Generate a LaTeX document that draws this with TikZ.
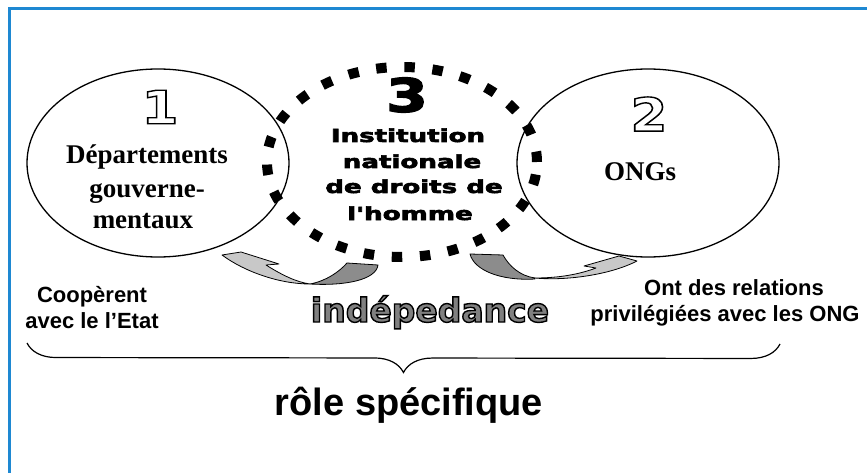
\documentclass[tikz,border=0pt]{standalone}
\usepackage{fontspec}
\setmainfont{Liberation Serif}
\newfontfamily\arialfont{Liberation Sans}
\newfontfamily\heavyfont{DejaVu Sans Bold}
\newfontfamily\blackfont{DejaVu Sans Bold}[FakeBold=3]
\usepackage{graphicx}
\usetikzlibrary{shapes.geometric,decorations.pathreplacing}
\definecolor{framebl}{RGB}{30,136,210}
\definecolor{lightarr}{RGB}{200,200,200}
\definecolor{darkarr}{RGB}{140,140,140}
\definecolor{fillgray}{RGB}{128,128,128}
\newcommand{\outlined}[2]{\textcolor{#1}{\special{pdf:literal direct 2 Tr 1.4 w 0 0 0 RG}#2\special{pdf:literal direct 0 Tr}}}

\begin{document}
\begin{tikzpicture}
  [x=1pt,y=-1pt,
   oval/.style={ellipse,draw,line width=1.3pt,minimum width=262pt,minimum height=188pt,inner sep=0pt},
   dotoval/.style={ellipse,draw,line width=10pt,dash pattern=on 10.5pt off 17.7pt,minimum width=270pt,minimum height=190pt,inner sep=0pt},
   numtxt/.style={font=\heavyfont\fontsize{46}{46}\selectfont,inner sep=0pt},
   heavytxt/.style={font=\blackfont\fontsize{18}{18}\selectfont,inner sep=0pt,anchor=base},
   sertxt/.style={font=\bfseries\fontsize{27}{32}\selectfont,inner sep=0pt,anchor=base},
   arialtxt/.style={font=\arialfont\bfseries\fontsize{22}{26}\selectfont,inner sep=0pt,anchor=base},
   swoosh/.style={draw=black,line width=0.8pt,line join=round}]
  \useasboundingbox (0,0) rectangle (867,473);
  \draw[framebl,line width=3pt] (9,473) -- (9,9) -- (867,9);

  % the three bodies
  \node[oval] (dept) at (158,163) {};
  \node[oval] (ongs) at (648,163) {};
  \node[dotoval] (inst) at (402,162) {};

  % numbers
  \node[numtxt] (one) at (160,107) {\scalebox{1.15}[1]{\outlined{white}{1}}};
  \node[numtxt] (two) at (649,114) {\scalebox{1.15}[1]{\outlined{white}{2}}};
  \node[numtxt,font=\blackfont\fontsize{46}{46}\selectfont] (three) at (407,95) {\scalebox{1.3}[1]{3}};

  \foreach \txt/\xx/\yy [count=\i] in {Départements/147/164,gouverne-/147/197,mentaux/143/228}
    \node[sertxt] (dept\i) at (\xx,\yy) {\txt};
  \node[sertxt] (ongtxt) at (640,181) {ONGs};
  \foreach \txt/\xx/\yy [count=\i] in {Institution/408/142,nationale/412/168,de droits de/414/193,l'homme/410/220}
    \node[heavytxt] (inst\i) at (\xx,\yy) {\scalebox{1.45}[1]{\txt}};

  % swoosh arrows
  \filldraw[swoosh,fill=darkarr] (310,284) .. controls (326,281) and (339,272) .. (347,263)
    -- (378,265) .. controls (376,280) and (345,286) .. (310,284) -- cycle;
  \filldraw[swoosh,fill=lightarr] (222,255) -- (241,252) -- (279,264) -- (266,265)
    .. controls (282,275) and (296,282) .. (310,284) .. controls (280,284) and (245,272) .. (222,255) -- cycle;
  \filldraw[swoosh,fill=darkarr] (535,278) .. controls (520,276) and (509,266) .. (503,255)
    -- (470,254) .. controls (474,270) and (500,281) .. (535,279) -- cycle;
  \filldraw[swoosh,fill=lightarr] (637,261) -- (619,256) -- (584,266) -- (596,268)
    .. controls (580,274) and (560,278) .. (535,278) .. controls (565,281) and (610,275) .. (637,261) -- cycle;

  \node[font=\heavyfont\fontsize{33}{33}\selectfont,inner sep=0pt,anchor=base] (indep) at (430,322)
    {\outlined{fillgray}{indépedance}};

  % side notes
  \node[arialtxt] (coop1) at (92,302) {Coopèrent};
  \node[arialtxt] (coop2) at (92,328) {avec le l’Etat};
  \node[arialtxt] (rel1) at (734,295) {Ont des relations};
  \node[arialtxt] (rel2) at (725,321) {privilégiées avec les ONG};

  % brace
  \coordinate (bl) at (27,343);
  \coordinate (br) at (780,344);
  \draw[decorate,decoration={brace,amplitude=29pt},line width=1.2pt] (br) -- (bl);
  \node[font=\arialfont\bfseries\fontsize{38}{38}\selectfont,inner sep=0pt,anchor=base] (role) at (409,415) {rôle spécifique};
\end{tikzpicture}
\end{document}
